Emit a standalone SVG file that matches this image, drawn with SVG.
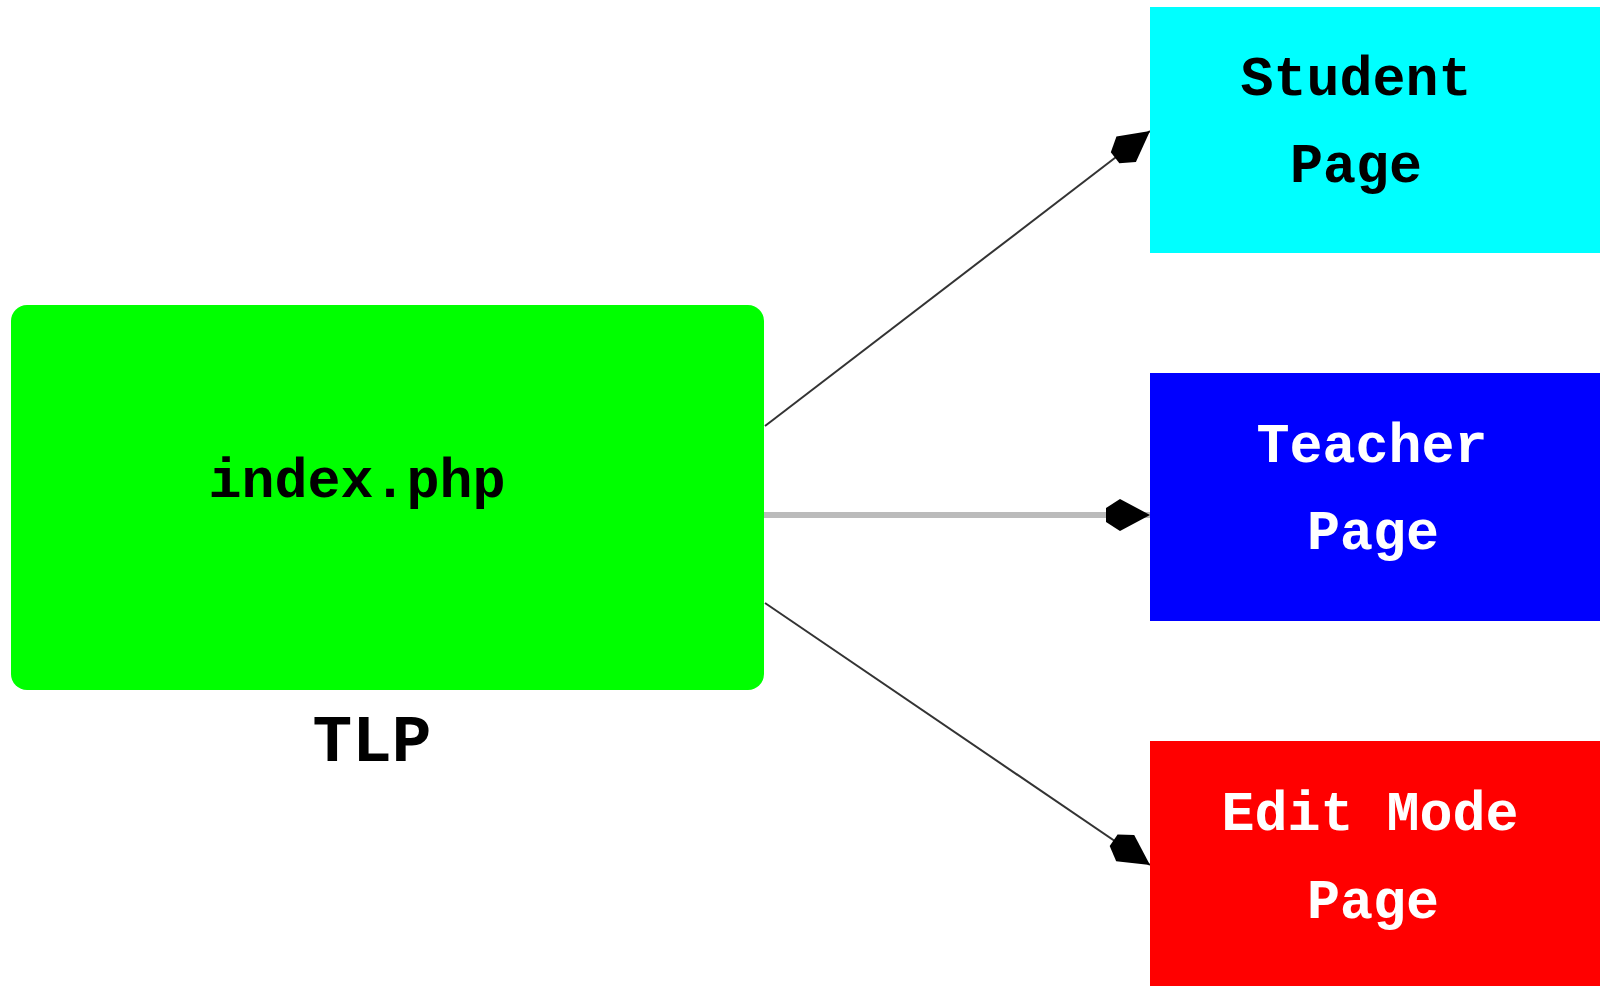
<svg xmlns="http://www.w3.org/2000/svg" width="1600" height="986" viewBox="0 0 1600 986">
<style>
.lbl{font-family:"Liberation Mono","Courier New",monospace;font-weight:bold;font-size:55px;text-anchor:middle}
.dark{fill:#000}
.light{fill:#fff}
.edge{fill:none;stroke:#333;stroke-width:2}
</style>
<defs>
<marker id="ah" markerUnits="userSpaceOnUse" markerWidth="60" markerHeight="40" viewBox="-50 -20 60 40" refX="0" refY="0" orient="auto">
<polygon points="0,0 -30,-16 -44,-7 -44,7 -30,16" fill="#000"/>
</marker>
</defs>
<rect width="1600" height="986" fill="#fff"/>
<g id="connectors">
<line class="edge" x1="765" y1="426" x2="1150" y2="131" marker-end="url(#ah)"/>
<line x1="764" y1="515" x2="1150" y2="515" stroke="#bbb" stroke-width="6" marker-end="url(#ah)"/>
<line class="edge" x1="765" y1="603" x2="1150" y2="865" marker-end="url(#ah)"/>
</g>
<g id="index">
<rect x="11" y="305" width="753" height="385" rx="16" fill="#00ff00"/>
<text class="lbl dark" x="357" y="497">index.php</text>
<text class="lbl dark" x="372" y="761" style="font-size:66px">TLP</text>
</g>
<g id="student">
<rect x="1150" y="7" width="450" height="246" fill="#00ffff"/>
<text class="lbl dark" x="1356" y="95">Student</text>
<text class="lbl dark" x="1356" y="182">Page</text>
</g>
<g id="teacher">
<rect x="1150" y="373" width="450" height="248" fill="#0000ff"/>
<text class="lbl light" x="1372" y="462">Teacher</text>
<text class="lbl light" x="1373" y="549">Page</text>
</g>
<g id="editmode">
<rect x="1150" y="741" width="450" height="245" fill="#ff0000"/>
<text class="lbl light" x="1370" y="830">Edit Mode</text>
<text class="lbl light" x="1373" y="918">Page</text>
</g>
</svg>
